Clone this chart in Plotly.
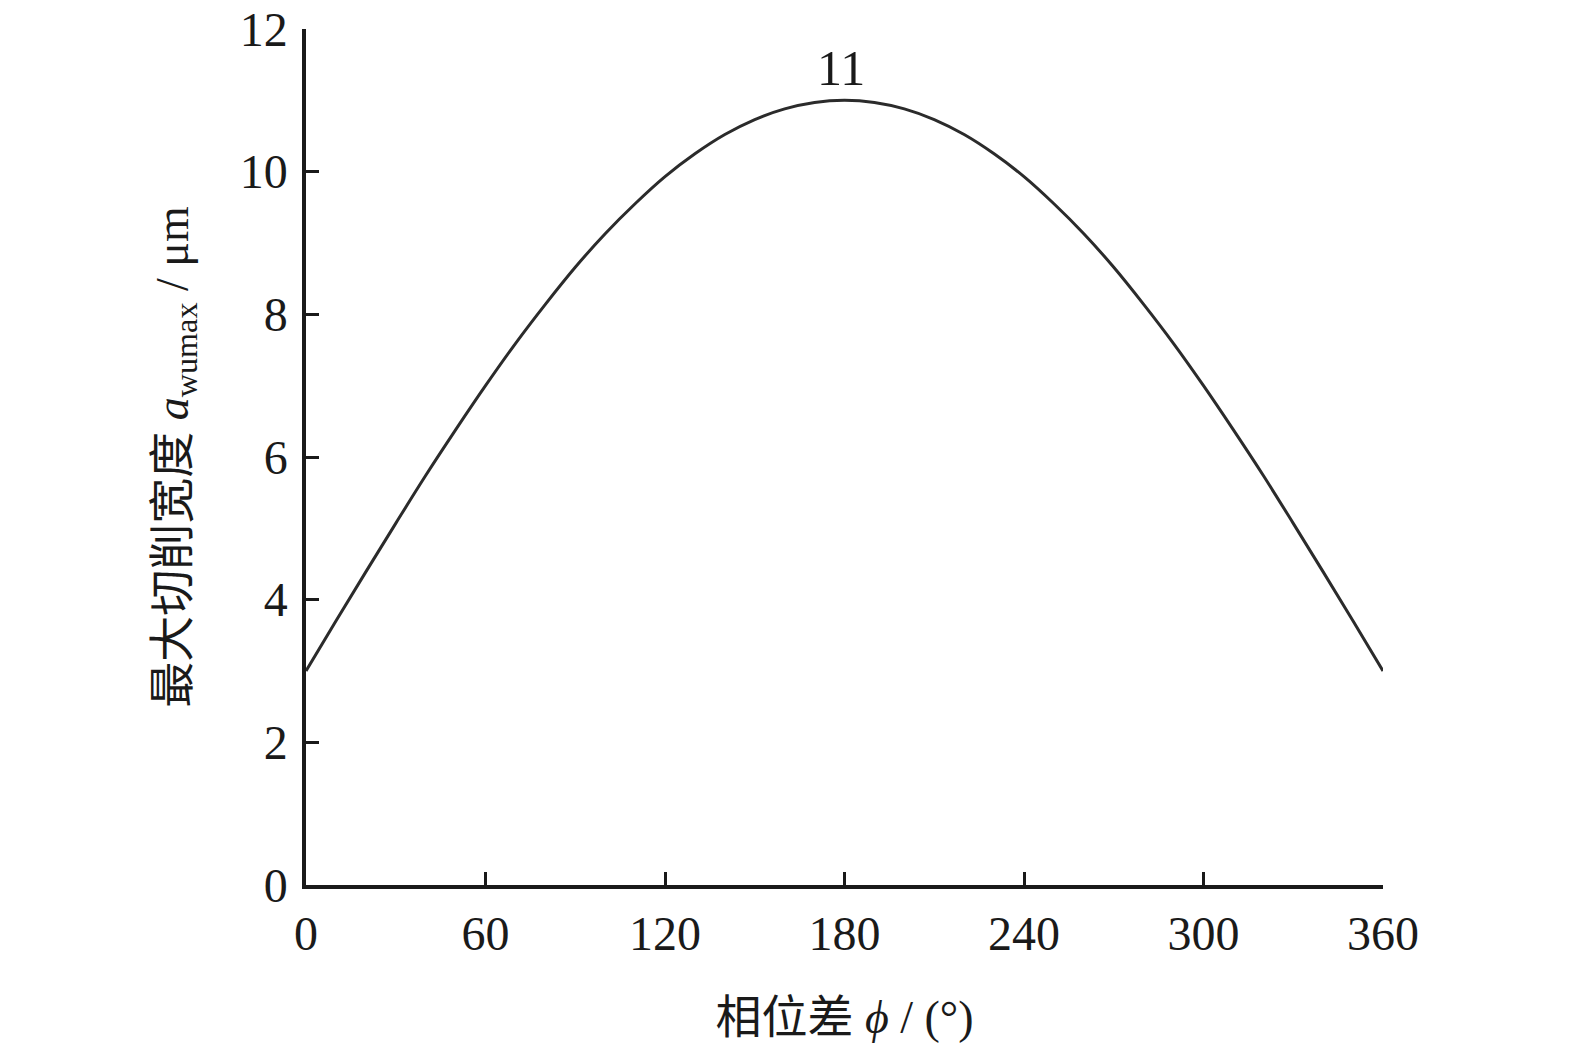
import plotly.graph_objects as go

phase_deg = [0, 10, 20, 30, 40, 50, 60, 70, 80, 90, 100, 110, 120, 130, 140, 150, 160, 170, 180,
             190, 200, 210, 220, 230, 240, 250, 260, 270, 280, 290, 300, 310, 320, 330, 340, 350, 360]
width_um = [3.00, 3.70, 4.39, 5.07, 5.74, 6.38, 7.00, 7.59, 8.14, 8.66, 9.13, 9.55, 9.93, 10.25,
            10.52, 10.73, 10.88, 10.97, 11.00, 10.97, 10.88, 10.73, 10.52, 10.25, 9.93, 9.55,
            9.13, 8.66, 8.14, 7.59, 7.00, 6.38, 5.74, 5.07, 4.39, 3.70, 3.00]
x_ticks = [0, 60, 120, 180, 240, 300, 360]
y_ticks = [0, 2, 4, 6, 8, 10, 12]
peak_label = "11"

FONT = "Liberation Serif, Times New Roman, Noto Sans CJK SC, serif"

fig = go.Figure()
fig.add_trace(go.Scatter(
    x=phase_deg, y=width_um, mode="lines",
    line=dict(color="#2b2b2b", width=3, shape="spline"),
    cliponaxis=False, showlegend=False,
))

peak_i = width_um.index(max(width_um))
fig.add_annotation(
    x=phase_deg[peak_i], y=width_um[peak_i], text=peak_label,
    showarrow=False, yanchor="bottom", yshift=2, xshift=-4,
    font=dict(family=FONT, size=50, color="#1a1a1a"),
)

axis_common = dict(
    showline=True, linewidth=3.5, linecolor="#1a1a1a", mirror=False,
    ticks="inside", ticklen=13, tickwidth=3, tickcolor="#1a1a1a",
    showgrid=False, zeroline=False, automargin=False,
    ticklabeloverflow="allow",
    tickfont=dict(family=FONT, size=48, color="#1a1a1a"),
)

fig.update_layout(
    width=1575, height=1045,
    margin=dict(l=306, r=192, t=29, b=160),
    paper_bgcolor="white", plot_bgcolor="white",
    font=dict(family=FONT, color="#1a1a1a"),
    xaxis=dict(
        range=[0, 360], tickvals=x_ticks, ticktext=[str(v) for v in x_ticks],
        title=dict(text="相位差 <i>ϕ</i> / (°)", font=dict(family=FONT, size=46), standoff=42),
        ticklabelstandoff=4,
        **axis_common,
    ),
    yaxis=dict(
        range=[0, 12], tickvals=y_ticks, ticktext=[str(v) for v in y_ticks],
        title=dict(text="最大切削宽度 <i>a</i><sub>wumax</sub> / μm", font=dict(family=FONT, size=46), standoff=38),
        ticklabelstandoff=5,
        **axis_common,
    ),
)

fig.write_html("out.html", config={"displayModeBar": False},
               post_script="document.body.style.margin='0';")
